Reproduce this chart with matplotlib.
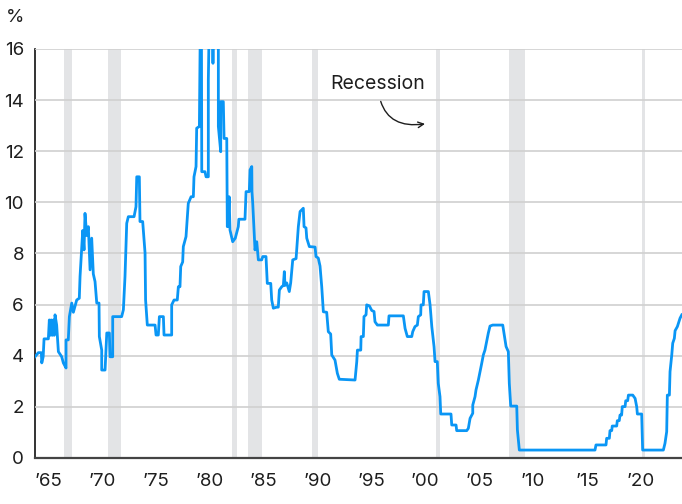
import matplotlib.pyplot as plt

plt.rcParams['font.family'] = ['Inter', 'DejaVu Sans']

# Rate series (year, percent); values above 16 are clipped by the axes
years = [
    1963.79, 1964.10, 1964.38, 1964.42, 1964.55, 1964.63, 1965.03, 1965.12, 1965.22, 1965.30,
    1965.40, 1965.50, 1965.58, 1965.65, 1965.80, 1965.96, 1966.27, 1966.42, 1966.67, 1966.67,
    1966.88, 1966.98, 1967.20, 1967.35, 1967.66, 1967.90, 1967.97, 1968.12, 1968.22, 1968.34,
    1968.43, 1968.59, 1968.74, 1968.90, 1969.05, 1969.20, 1969.36, 1969.52, 1969.73, 1969.76,
    1969.98, 1969.98, 1970.29, 1970.45, 1970.69, 1970.75, 1971.00, 1971.00, 1971.83, 1971.99,
    1972.14, 1972.30, 1972.45, 1972.98, 1973.16, 1973.23, 1973.47, 1973.53, 1973.78, 1974.00,
    1974.05, 1974.21, 1974.93, 1975.02, 1975.23, 1975.33, 1975.70, 1975.76, 1976.47, 1976.47,
    1976.69, 1976.99, 1977.09, 1977.24, 1977.31, 1977.49, 1977.55, 1977.80, 1978.01, 1978.27,
    1978.48, 1978.54, 1978.73, 1978.79, 1979.04, 1979.17, 1979.22, 1979.26, 1979.56, 1979.66,
    1979.87, 1979.87, 1980.03, 1980.25, 1980.30, 1980.36, 1980.80, 1980.80, 1981.02, 1981.02,
    1981.26, 1981.33, 1981.58, 1981.63, 1981.70, 1981.80, 1981.88, 1982.13, 1982.37, 1982.65,
    1982.70, 1983.27, 1983.37, 1983.67, 1983.74, 1983.90, 1983.92, 1983.99, 1984.20, 1984.36,
    1984.51, 1984.82, 1984.92, 1985.22, 1985.34, 1985.66, 1985.75, 1985.90, 1986.21, 1986.36,
    1986.46, 1986.68, 1986.83, 1986.92, 1986.98, 1987.14, 1987.38, 1987.51, 1987.70, 1988.01,
    1988.22, 1988.38, 1988.68, 1988.75, 1988.93, 1989.00, 1989.24, 1989.77, 1989.86, 1990.07,
    1990.23, 1990.39, 1990.54, 1990.85, 1991.00, 1991.22, 1991.32, 1991.62, 1991.84, 1992.02,
    1993.48, 1993.64, 1993.70, 1994.01, 1994.04, 1994.25, 1994.31, 1994.50, 1994.56, 1994.81,
    1995.03, 1995.24, 1995.33, 1995.55, 1996.57, 1996.63, 1997.96, 1998.12, 1998.33, 1998.74,
    1998.83, 1999.04, 1999.26, 1999.35, 1999.57, 1999.60, 1999.81, 1999.88, 2000.28, 2000.44,
    2000.60, 2000.81, 2000.90, 2001.11, 2001.20, 2001.36, 2001.43, 2002.38, 2002.45, 2002.85,
    2002.91, 2003.84, 2003.99, 2004.15, 2004.40, 2004.40, 2004.61, 2004.70, 2004.92, 2005.08,
    2005.23, 2005.38, 2005.53, 2005.69, 2005.84, 2006.00, 2006.25, 2007.18, 2007.30, 2007.49,
    2007.70, 2007.79, 2007.92, 2008.48, 2008.54, 2008.72, 2015.74, 2015.83, 2016.76, 2016.82,
    2017.07, 2017.13, 2017.29, 2017.34, 2017.75, 2017.81, 2017.99, 2018.06, 2018.21, 2018.27,
    2018.53, 2018.59, 2018.77, 2018.84, 2019.24, 2019.46, 2019.61, 2019.67, 2020.07, 2020.16,
    2022.08, 2022.23, 2022.39, 2022.45, 2022.64, 2022.70, 2022.86, 2022.95, 2023.10, 2023.17,
    2023.38, 2023.63, 2023.79,
]
rates = [
    3.96, 4.12, 4.12, 3.72, 3.96, 4.66, 4.66, 5.40, 4.80, 5.40,
    4.80, 5.40, 4.80, 5.60, 5.20, 4.16, 3.96, 3.72, 3.52, 4.62,
    4.62, 5.53, 6.06, 5.70, 6.18, 6.25, 7.10, 8.14, 8.90, 8.14,
    9.57, 8.70, 9.05, 7.36, 8.60, 7.20, 6.90, 6.06, 6.06, 4.75,
    4.22, 3.44, 3.44, 4.89, 4.89, 3.96, 3.96, 5.53, 5.53, 5.80,
    7.10, 9.18, 9.44, 9.44, 9.83, 11.00, 11.00, 9.25, 9.25, 8.02,
    6.18, 5.20, 5.20, 4.81, 4.81, 5.53, 5.53, 4.81, 4.81, 5.99,
    6.18, 6.18, 6.70, 6.70, 7.49, 7.67, 8.27, 8.66, 9.96, 10.22,
    10.22, 11.00, 11.40, 12.90, 12.97, 19.00, 19.00, 11.20, 11.20, 11.00,
    11.00, 14.80, 19.00, 19.00, 15.44, 19.00, 19.00, 12.97, 11.98, 13.94,
    13.94, 12.50, 12.50, 9.05, 9.05, 10.22, 8.92, 8.46, 8.60, 9.05,
    9.34, 9.34, 10.42, 10.42, 11.27, 11.40, 10.42, 9.96, 8.14, 8.46,
    7.75, 7.75, 7.88, 7.88, 6.83, 6.83, 6.18, 5.86, 5.90, 5.90,
    6.57, 6.70, 6.75, 7.29, 6.75, 6.85, 6.51, 6.85, 7.75, 7.80,
    9.05, 9.64, 9.77, 9.05, 9.00, 8.60, 8.27, 8.25, 7.88, 7.82,
    7.51, 6.70, 5.72, 5.70, 4.94, 4.85, 4.03, 3.83, 3.31, 3.08,
    3.05, 3.77, 4.22, 4.22, 4.75, 4.75, 5.53, 5.60, 5.99, 5.95,
    5.77, 5.73, 5.33, 5.20, 5.20, 5.56, 5.56, 5.07, 4.75, 4.75,
    4.94, 5.14, 5.20, 5.53, 5.60, 5.99, 5.99, 6.51, 6.51, 5.99,
    5.14, 4.35, 3.77, 3.77, 2.92, 2.40, 1.72, 1.72, 1.29, 1.29,
    1.07, 1.07, 1.16, 1.55, 1.75, 2.07, 2.40, 2.66, 3.05, 3.38,
    3.70, 4.03, 4.22, 4.55, 4.88, 5.16, 5.20, 5.20, 4.88, 4.36,
    4.16, 2.92, 2.03, 2.03, 1.10, 0.31, 0.31, 0.51, 0.51, 0.77,
    0.77, 1.07, 1.07, 1.25, 1.25, 1.46, 1.46, 1.68, 1.68, 2.01,
    2.01, 2.24, 2.24, 2.46, 2.46, 2.33, 2.00, 1.72, 1.72, 0.31,
    0.31, 0.57, 1.03, 2.46, 2.46, 3.38, 4.03, 4.49, 4.68, 4.98,
    5.14, 5.47, 5.60,
]

# Recession shading (start, end) in years
recession_start = [1966.48, 1970.57, 1982.07, 1983.58, 1989.52, 2000.96, 2007.79, 2020.07]
recession_end = [1967.23, 1971.77, 1982.53, 1984.82, 1990.02, 2001.36, 2009.25, 2020.38]

tick_years = [1965, 1970, 1975, 1980, 1985, 1990, 1995, 2000, 2005, 2010, 2015, 2020]
tick_labels = ["\u201965", "\u201970", "\u201975", "\u201980", "\u201985", "\u201990",
               "\u201995", "\u201900", "\u201905", "\u201910", "\u201915", "\u201920"]
y_ticks = [0, 2, 4, 6, 8, 10, 12, 14, 16]

fig = plt.figure(figsize=(6.82, 5.04), dpi=100)
ax = fig.add_axes([0.0513, 0.0913, 0.9487, 0.8115])

for s, e in zip(recession_start, recession_end):
    ax.axvspan(s, e, color='#e3e4e6', lw=0, zorder=1)

ax.plot(years, rates, color='#0a96f5', lw=2.0, zorder=3, solid_joinstyle='round')

ax.set_xlim(1963.79, 2023.81)
ax.set_ylim(0, 16)
ax.set_yticks(y_ticks)
ax.set_yticklabels([str(v) for v in y_ticks])
ax.set_xticks(tick_years)
ax.set_xticklabels(tick_labels)
ax.tick_params(axis='both', length=0, labelsize=13.5, colors='#1e1e1e')
ax.tick_params(axis='x', pad=11)
ax.tick_params(axis='y', pad=8)

ax.grid(axis='y', color='#d0d0d0', lw=1.2, zorder=2)
ax.set_axisbelow(False)
for side in ['top', 'right']:
    ax.spines[side].set_visible(False)
ax.spines['left'].set_color('#111111')
ax.spines['left'].set_linewidth(1.2)
ax.spines['bottom'].set_color('#444444')
ax.spines['bottom'].set_linewidth(1.6)
ax.spines['bottom'].set_zorder(4)

fig.text(0.0215, 0.966, '%', fontsize=13.5, color='#1e1e1e', ha='center', va='center')

ax.annotate('Recession', xy=(1999.97, 13.07), xytext=(1995.61, 14.62),
            fontsize=14, color='#1e1e1e', ha='center', va='center',
            arrowprops=dict(arrowstyle='->', color='#1e1e1e', lw=1.0,
                            connectionstyle='arc3,rad=0.55', shrinkA=4, shrinkB=0,
                            mutation_scale=10))

fig.savefig('out.png', dpi=100)
